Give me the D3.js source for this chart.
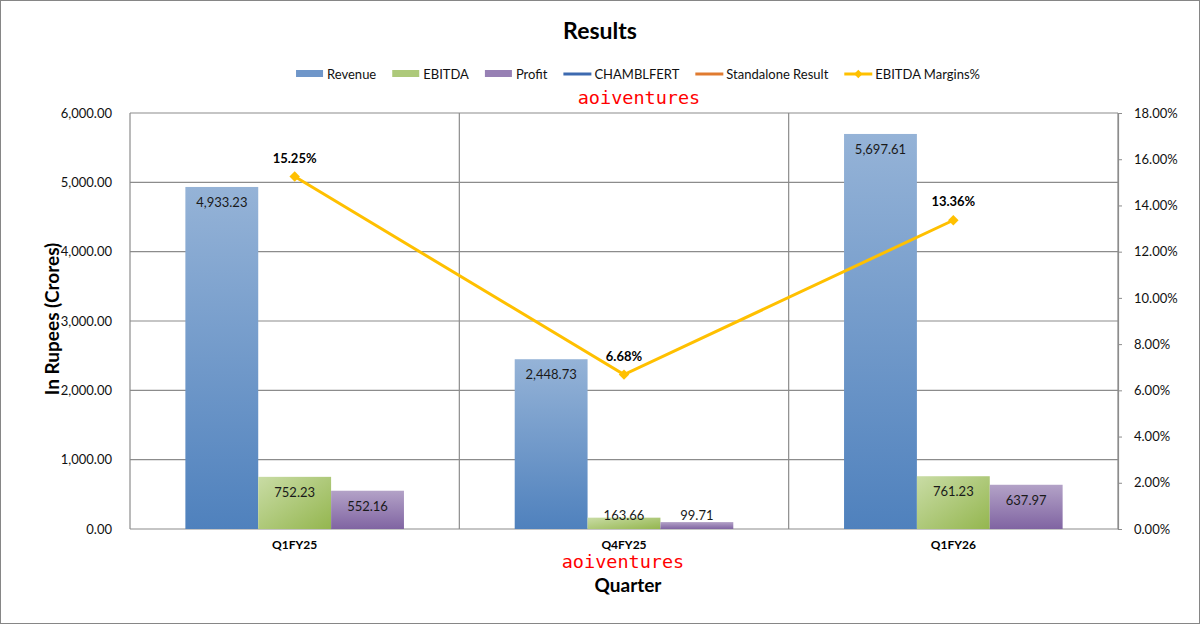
<!DOCTYPE html>
<html>
<head>
<meta charset="utf-8">
<script src="https://cdn.jsdelivr.net/npm/d3@7"></script>
<style>
  body { margin: 0; background: #fff; }
  text { font-family: Lato, "Open Sans", sans-serif; }
</style>
</head>
<body>
<div id="chart"></div>
<script>
// data
let quarters = ["Q1FY25", "Q4FY25", "Q1FY26"];
let revenue = [4933.23, 2448.73, 5697.61];
let ebitda = [752.23, 163.66, 761.23];
let profit = [552.16, 99.71, 637.97];
let margins = [15.25, 6.68, 13.36];
let leftTicks = [0, 1000, 2000, 3000, 4000, 5000, 6000];
let rightTicks = [0, 2, 4, 6, 8, 10, 12, 14, 16, 18];
let seriesNames = ["Revenue", "EBITDA", "Profit"];

let width = 1200, height = 624;
let margin = {top: 113, right: 82, bottom: 95, left: 130};
let plotW = width - margin.left - margin.right;
let plotH = height - margin.top - margin.bottom;

let root = d3.select("#chart")
    .append("svg")
    .attr("width", width)
    .attr("height", height);

let defs = root.append("defs");
function vGrad(id, top, bottom) {
    let g = defs.append("linearGradient").attr("id", id)
        .attr("x1", 0).attr("y1", 0).attr("x2", 0).attr("y2", 1);
    g.append("stop").attr("offset", "0%").attr("stop-color", top);
    g.append("stop").attr("offset", "100%").attr("stop-color", bottom);
}
vGrad("gRev", "#95b3d7", "#4f81bd");
vGrad("gPro", "#b3a2c7", "#8064a2");
let ge = defs.append("linearGradient").attr("id", "gEbi")
    .attr("x1", 0).attr("y1", 0).attr("x2", 1).attr("y2", 1);
ge.append("stop").attr("offset", "0%").attr("stop-color", "#c9dca5");
ge.append("stop").attr("offset", "100%").attr("stop-color", "#94b64f");

let fills = ["url(#gRev)", "url(#gEbi)", "url(#gPro)"];
let swatch = ["#6f96c9", "#adc97a", "#9780b4"];

// outer border
root.append("rect")
    .attr("x", 0.5).attr("y", 0.5)
    .attr("width", width - 1).attr("height", height - 1)
    .attr("fill", "none").attr("stroke", "#868686");

root.append("text")
    .attr("x", 600).attr("y", 39)
    .attr("text-anchor", "middle")
    .style("font-size", "23px").style("font-weight", "bold")
    .text("Results");

let svg = root.append("g")
    .attr("transform", `translate(${margin.left}, ${margin.top})`);

let x = d3.scaleBand().domain(quarters).range([0, plotW]);
let xInner = d3.scaleBand().domain(seriesNames)
    .range([0, x.bandwidth()]).paddingOuter(0.76);
let y = d3.scaleLinear().domain([0, 6000]).range([plotH, 0]);
let y2 = d3.scaleLinear().domain([0, 18]).range([plotH, 0]);

// gridlines
svg.append("g").selectAll("line").data(leftTicks).enter().append("line")
    .attr("x1", 0).attr("x2", plotW)
    .attr("y1", d => y(d)).attr("y2", d => y(d))
    .attr("stroke", "#8c8c8c").attr("stroke-width", 1.2);
svg.append("g").selectAll("line").data(d3.range(quarters.length + 1)).enter().append("line")
    .attr("x1", d => d * x.step()).attr("x2", d => d * x.step())
    .attr("y1", 0).attr("y2", plotH)
    .attr("stroke", "#8c8c8c").attr("stroke-width", 1.2);

// left axis
let yAxis = svg.append("g")
    .call(d3.axisLeft(y).tickValues(leftTicks).tickSize(0).tickPadding(18)
        .tickFormat(d3.format(",.2f")));
yAxis.select(".domain").remove();
yAxis.selectAll("text").style("font-size", "13px").style("font-family", "Lato").attr("fill", "#111");

// right axis
let y2Axis = svg.append("g")
    .attr("transform", `translate(${plotW}, 0)`)
    .call(d3.axisRight(y2).tickValues(rightTicks).tickSize(4).tickPadding(12)
        .tickFormat(d => d3.format(".2f")(d) + "%"));
y2Axis.select(".domain").attr("stroke", "#8c8c8c").attr("stroke-width", 1.2);
y2Axis.selectAll("line").attr("stroke", "#8c8c8c");
y2Axis.selectAll("text").style("font-size", "13px").style("font-family", "Lato").attr("fill", "#111");

// category labels
svg.append("g").selectAll("text").data(quarters).enter().append("text")
    .attr("x", d => x(d) + x.bandwidth() / 2)
    .attr("y", plotH + 20)
    .attr("text-anchor", "middle")
    .style("font-size", "12px").style("font-weight", "bold")
    .text(d => d);

// bars
let rows = quarters.map((q, i) => ({q: q, vals: [revenue[i], ebitda[i], profit[i]]}));
let groups = svg.append("g").selectAll("g").data(rows).enter().append("g")
    .attr("transform", d => `translate(${x(d.q)}, 0)`);

groups.selectAll("rect")
    .data(d => d.vals.map((v, k) => ({name: seriesNames[k], v: v, k: k})))
    .enter().append("rect")
    .attr("x", d => xInner(d.name))
    .attr("y", d => y(d.v))
    .attr("width", xInner.bandwidth())
    .attr("height", d => plotH - y(d.v))
    .attr("fill", d => fills[d.k]);

groups.selectAll("text")
    .data(d => d.vals.map((v, k) => ({name: seriesNames[k], v: v})))
    .enter().append("text")
    .attr("x", d => xInner(d.name) + xInner.bandwidth() / 2)
    .attr("y", d => Math.min(y(d.v) + 20, plotH - 9))
    .attr("text-anchor", "middle")
    .style("font-size", "13px").attr("fill", "#1a1a1a")
    .text(d => d3.format(",.2f")(d.v));

// margin line
let line = d3.line()
    .x((d, i) => x(quarters[i]) + x.bandwidth() / 2)
    .y(d => y2(d));
svg.append("path").datum(margins)
    .attr("d", line)
    .attr("fill", "none").attr("stroke", "#ffc000").attr("stroke-width", 3);

svg.append("g").selectAll("path").data(margins).enter().append("path")
    .attr("d", d3.symbol().type(d3.symbolDiamond2).size(70))
    .attr("transform", (d, i) => `translate(${x(quarters[i]) + x.bandwidth() / 2}, ${y2(d)})`)
    .attr("fill", "#ffc000");

svg.append("g").selectAll("text").data(margins).enter().append("text")
    .attr("x", (d, i) => x(quarters[i]) + x.bandwidth() / 2)
    .attr("y", d => y2(d) - 14)
    .attr("text-anchor", "middle")
    .style("font-size", "13px").style("font-weight", "bold")
    .text(d => d3.format(".2f")(d) + "%");

// axis titles
root.append("text")
    .attr("transform", `translate(59, ${margin.top + plotH / 2 - 2}) rotate(-90)`)
    .attr("text-anchor", "middle")
    .style("font-size", "19px").style("font-weight", "bold")
    .text("In Rupees (Crores)");

root.append("text")
    .attr("x", 628).attr("y", 592)
    .attr("text-anchor", "middle")
    .style("font-size", "19px").style("font-weight", "bold")
    .text("Quarter");

// legend, laid out left to right and centred
let legendItems = [
    {name: "Revenue", type: "box", color: swatch[0]},
    {name: "EBITDA", type: "box", color: swatch[1]},
    {name: "Profit", type: "box", color: swatch[2]},
    {name: "CHAMBLFERT", type: "line", color: "#3d6ab0"},
    {name: "Standalone Result", type: "line", color: "#e07b30"},
    {name: "EBITDA Margins%", type: "marker", color: "#ffc000"}
];
let legendG = root.append("g");
let legend = legendG.selectAll("g").data(legendItems).enter().append("g");
legend.filter(d => d.type == "box").append("rect")
    .attr("x", 0).attr("y", -4).attr("width", 27).attr("height", 7)
    .attr("fill", d => d.color);
legend.filter(d => d.type != "box").append("line")
    .attr("x1", 0).attr("x2", 28).attr("y1", 0).attr("y2", 0)
    .attr("stroke", d => d.color).attr("stroke-width", 3);
legend.filter(d => d.type == "marker").append("path")
    .attr("d", d3.symbol().type(d3.symbolDiamond2).size(45))
    .attr("transform", "translate(14, 0)")
    .attr("fill", d => d.color);
legend.append("text")
    .attr("x", 31)
    .attr("y", 5)
    .style("font-size", "13px").attr("fill", "#111")
    .text(d => d.name);

let cursor = 0;
legend.each(function(d) {
    d.x = cursor;
    cursor += 31 + this.querySelector("text").getComputedTextLength() + 16;
});
let legendW = cursor - 16;
legend.attr("transform", d => `translate(${d.x}, 0)`);
legendG.attr("transform", `translate(${638 - legendW / 2}, 74)`);

// watermarks
[[639, 104], [623, 568]].forEach(function(p) {
    root.append("text")
        .attr("x", p[0]).attr("y", p[1])
        .attr("text-anchor", "middle")
        .style("font-family", "DejaVu Sans Mono, monospace")
        .style("font-size", "18.5px")
        .attr("fill", "#ff0000")
        .text("aoiventures");
});
</script>
</body>
</html>
